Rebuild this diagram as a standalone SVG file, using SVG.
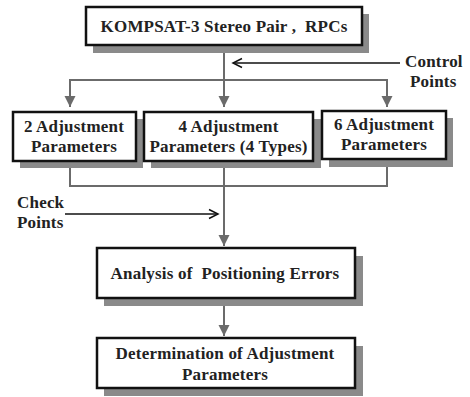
<svg xmlns="http://www.w3.org/2000/svg" width="470" height="397" viewBox="0 0 470 397">
<defs>
<marker id="ga" markerUnits="userSpaceOnUse" markerWidth="12" markerHeight="12" viewBox="0 0 12 12" refX="11" refY="6" orient="auto"><path d="M0,0.5 L11,6 L0,11.5 Z" fill="#6b6b6b"/></marker>
<marker id="ba" markerUnits="userSpaceOnUse" markerWidth="12" markerHeight="12" viewBox="0 0 12 12" refX="10" refY="6" orient="auto"><path d="M1,1.5 L10,6 L1,10.5" fill="none" stroke="#111" stroke-width="1.5"/></marker>
</defs>
<style>
.box{fill:#fff;stroke:#111;stroke-width:2.5}
.sh{fill:#8a8a8a}
.t{font-family:"Liberation Serif","Times New Roman",serif;font-weight:bold;font-size:17px;letter-spacing:0.2px;fill:#222;text-anchor:middle;white-space:pre}
.l{font-family:"Liberation Serif","Times New Roman",serif;font-weight:bold;font-size:17px;letter-spacing:0.2px;fill:#222}
.c{fill:none;stroke:#6b6b6b;stroke-width:2}
.k{fill:none;stroke:#111;stroke-width:1.5}
</style>
<rect width="470" height="397" fill="#fff"/>
<g id="connectors">
<line class="c" x1="224" y1="45" x2="224" y2="107" marker-end="url(#ga)"/>
<polyline class="c" points="70,107 70,80 387,80 387,107"/>
<line class="c" x1="70" y1="80" x2="70" y2="107" marker-end="url(#ga)"/>
<line class="c" x1="387" y1="80" x2="387" y2="107" marker-end="url(#ga)"/>
<polyline class="c" points="70,168 70,186 387,186 387,167"/>
<line class="c" x1="224" y1="161" x2="224" y2="246" marker-end="url(#ga)"/>
<line class="c" x1="224" y1="298" x2="224" y2="336" marker-end="url(#ga)"/>
<line class="k" x1="400" y1="63" x2="233" y2="63" marker-end="url(#ba)"/>
<line class="k" x1="65" y1="214" x2="218" y2="214" marker-end="url(#ba)"/>
</g>
<g id="n1"><rect class="sh" x="93" y="14" width="276" height="39"/><rect class="box" x="86" y="7" width="276" height="38"/><text class="t" x="224" y="32" xml:space="preserve">KOMPSAT-3 Stereo Pair ,  RPCs</text></g>
<g id="cp"><text class="l" x="405" y="67">Control</text><text class="l" x="410" y="87">Points</text></g>
<g id="n2"><rect class="sh" x="20" y="119" width="123" height="49"/><rect class="box" x="13" y="112" width="123" height="49"/><text class="t" x="74" y="132">2 Adjustment</text><text class="t" x="74" y="152">Parameters</text></g>
<g id="n3"><rect class="sh" x="151" y="119" width="170" height="49"/><rect class="box" x="144" y="112" width="169" height="49"/><text class="t" x="228.5" y="132">4 Adjustment</text><text class="t" x="228.5" y="152">Parameters (4 Types)</text></g>
<g id="n4"><rect class="sh" x="329" y="118" width="124" height="49"/><rect class="box" x="322" y="111" width="124" height="48"/><text class="t" x="384" y="130">6 Adjustment</text><text class="t" x="384" y="150">Parameters</text></g>
<g id="chk"><text class="l" x="17" y="208">Check</text><text class="l" x="17" y="228">Points</text></g>
<g id="n5"><rect class="sh" x="104" y="256" width="259" height="50"/><rect class="box" x="97" y="248" width="258" height="50"/><text class="t" x="225" y="279" xml:space="preserve">Analysis of  Positioning Errors</text></g>
<g id="n6"><rect class="sh" x="104" y="346" width="259" height="50"/><rect class="box" x="97" y="338" width="258" height="50"/><text class="t" x="225" y="359">Determination of Adjustment</text><text class="t" x="225" y="380">Parameters</text></g>
</svg>
